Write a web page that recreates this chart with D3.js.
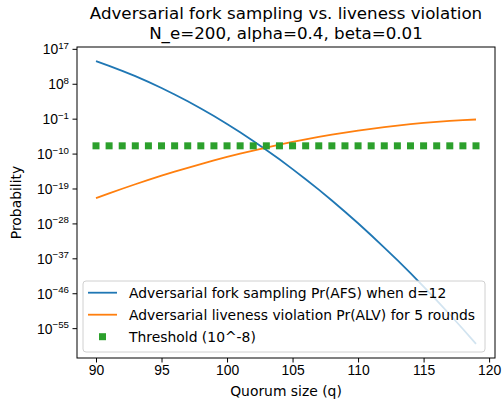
<!DOCTYPE html>
<html>
<head>
<meta charset="utf-8">
<script src="https://cdn.jsdelivr.net/npm/d3@7"></script>
<style>
body { margin: 0; background: #fff; }
svg { font-family: "DejaVu Sans", sans-serif; }
</style>
</head>
<body>
<svg class="graph" width="502" height="404"></svg>
<script>
// quorum sizes
var quorum = d3.range(90, 120);
// log10 of probabilities
var afsLog = [13.83, 12.63, 11.34, 9.96, 8.48, 6.91, 5.24, 3.48, 1.62, -0.33,
  -2.37, -4.51, -6.74, -9.06, -11.48, -14.00, -16.60, -19.30, -22.10, -24.99,
  -27.97, -31.05, -34.22, -37.48, -40.84, -44.30, -47.84, -51.48, -55.22, -59.05];
var alvLog = [-21.48, -20.25, -19.06, -17.90, -16.78, -15.71, -14.66, -13.66, -12.70, -11.77,
  -10.88, -10.03, -9.22, -8.44, -7.70, -7.01, -6.34, -5.72, -5.14, -4.59,
  -4.08, -3.61, -3.18, -2.78, -2.42, -2.11, -1.82, -1.58, -1.38, -1.21];
var thresholdLog = -8;
var xTicks = [90, 95, 100, 105, 110, 115, 120];
var yTickExp = [17, 8, -1, -10, -19, -28, -37, -46, -55];
var legendLabels = ["Adversarial fork sampling Pr(AFS) when d=12",
  "Adversarial liveness violation Pr(ALV) for 5 rounds",
  "Threshold (10^-8)"];

var svg = d3.select('.graph');
var L = 77, R = 495, T = 47, B = 358;
var fs = '13.9px';

var lo = d3.min(afsLog.concat(alvLog)), hi = d3.max(afsLog.concat(alvLog));
var pad = (hi - lo) * 0.05;
var x = d3.scaleLinear().domain([88.55, 120.45]).range([L, R]);
var y = d3.scaleLog().domain([Math.pow(10, lo - pad), Math.pow(10, hi + pad)]).range([B, T]);

var line = d3.line().x(function(d){ return x(d[0]); }).y(function(d){ return y(Math.pow(10, d[1])); });

var g = svg.append('g');
g.append('path').datum(d3.zip(quorum, afsLog))
  .attr('d', line).attr('fill', 'none').attr('stroke', '#1f77b4').attr('stroke-width', 1.8);
g.append('path').datum(d3.zip(quorum, alvLog))
  .attr('d', line).attr('fill', 'none').attr('stroke', '#ff7f0e').attr('stroke-width', 1.8);
g.selectAll('.thr').data(quorum).enter().append('rect')
  .attr('x', function(d){ return x(d) - 3.5; })
  .attr('y', y(Math.pow(10, thresholdLog)) - 3.5)
  .attr('width', 7).attr('height', 7).attr('fill', '#2ca02c');

// axes
var xAxis = d3.axisBottom(x).tickValues(xTicks).tickSize(4.5).tickPadding(3);
var xg = svg.append('g').attr('transform', 'translate(0,' + B + ')').call(xAxis);
xg.select('.domain').remove();
xg.selectAll('text').style('font-size', fs).attr('fill', '#000');

var yAxis = d3.axisLeft(y).tickValues(yTickExp.map(function(e){ return Math.pow(10, e); }))
  .tickSize(4.5).tickPadding(3).tickFormat('');
var yg = svg.append('g').attr('transform', 'translate(' + L + ',0)').call(yAxis);
yg.select('.domain').remove();
yg.selectAll('.tick').each(function(d, i){
  var t = d3.select(this).append('text').attr('x', -8).attr('dy', '0.35em')
    .attr('text-anchor', 'end').attr('fill', '#000').style('font-size', fs);
  t.append('tspan').text('10');
  t.append('tspan').attr('dy', '-0.55em').style('font-size', '9.7px')
    .text(String(yTickExp[i]).replace('-', '\u2212'));
});

// legend
var lg = svg.append('g');
lg.append('rect').attr('x', 83).attr('y', 281).attr('width', 402).attr('height', 71)
  .attr('rx', 3).attr('fill', '#fff').attr('fill-opacity', 0.8)
  .attr('stroke', '#d0d0d0').attr('stroke-width', 1);
var colors = ['#1f77b4', '#ff7f0e', '#2ca02c'];
legendLabels.forEach(function(lab, i){
  var yy = 292.7 + i * 22;
  if (i < 2) {
    lg.append('line').attr('x1', 88).attr('x2', 117).attr('y1', yy).attr('y2', yy)
      .attr('stroke', colors[i]).attr('stroke-width', 1.8);
  } else {
    lg.append('rect').attr('x', 99).attr('y', yy - 3.5).attr('width', 7).attr('height', 7)
      .attr('fill', colors[i]);
  }
  lg.append('text').attr('x', 129).attr('y', yy).attr('dy', '0.35em')
    .style('font-size', fs).attr('fill', '#000').text(lab);
});

// frame
svg.append('rect').attr('x', L).attr('y', T).attr('width', R - L).attr('height', B - T)
  .attr('fill', 'none').attr('stroke', '#000').attr('stroke-width', 1);

// labels
svg.append('text').attr('x', (L + R) / 2).attr('y', 396).attr('text-anchor', 'middle')
  .style('font-size', fs).text('Quorum size (q)');
svg.append('text').attr('transform', 'translate(21,' + (T + B) / 2 + ') rotate(-90)')
  .attr('text-anchor', 'middle').style('font-size', fs).text('Probability');
svg.append('text').attr('x', (L + R) / 2).attr('y', 19).attr('text-anchor', 'middle')
  .style('font-size', '16.7px').text('Adversarial fork sampling vs. liveness violation');
svg.append('text').attr('x', (L + R) / 2).attr('y', 39).attr('text-anchor', 'middle')
  .style('font-size', '16.7px').text('N_e=200, alpha=0.4, beta=0.01');
</script>
</body>
</html>
